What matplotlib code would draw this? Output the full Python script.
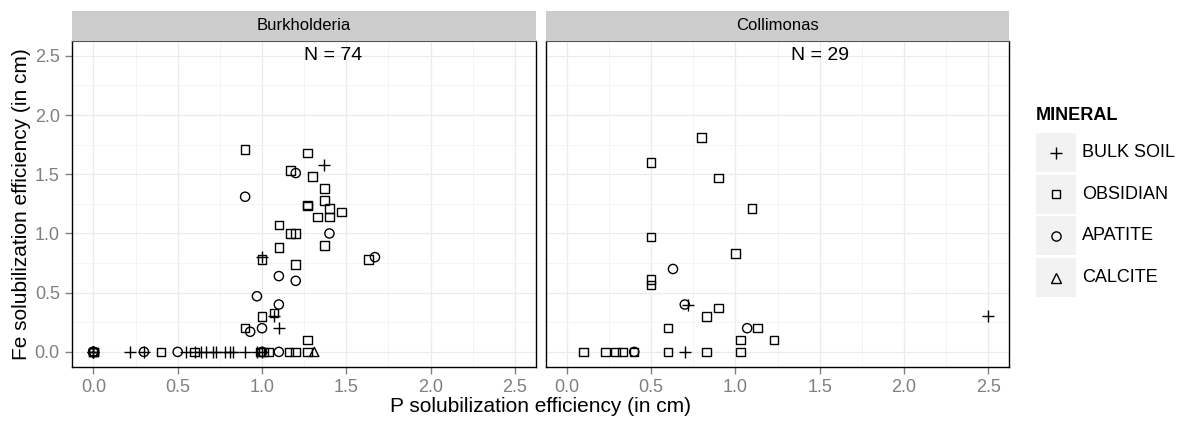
import numpy as np
import matplotlib
matplotlib.use("Agg")
import matplotlib.pyplot as plt
from matplotlib.patches import Rectangle
from matplotlib.lines import Line2D

plt.rcParams['font.family'] = ['Liberation Sans', 'DejaVu Sans']

minerals = ['BULK SOIL', 'OBSIDIAN', 'APATITE', 'CALCITE']
codes = {'B': 'BULK SOIL', 'O': 'OBSIDIAN', 'A': 'APATITE', 'C': 'CALCITE'}
genera = ['Burkholderia', 'Collimonas']
n_labels = ['N = 74', 'N = 29']
ticks = [0.0, 0.5, 1.0, 1.5, 2.0, 2.5]

# Burkholderia isolates: P and Fe solubilization (cm) and mineral
burk_p = [0.90, 1.27, 1.37, 1.17, 1.20, 1.30, 1.37, 0.90, 1.37, 1.27, 1.27, 1.40,
          1.47, 1.33, 1.40, 1.10, 1.17, 1.20, 1.40, 1.37, 1.10, 1.00, 1.00, 1.63,
          1.67, 1.20, 1.10, 1.20, 0.97, 1.10, 1.00, 1.07, 1.07, 0.90, 0.93, 1.00,
          1.10, 1.27,
          0.00, 0.00, 0.00, 0.00, 0.00, 0.00, 0.00, 0.00, 0.00,
          0.22, 0.30, 0.30, 0.40, 0.50, 0.55, 0.60, 0.60, 0.64, 0.67, 0.71, 0.73,
          0.78, 0.81, 0.83, 0.90, 0.97, 0.99, 1.00, 1.00, 1.04, 1.01, 1.10, 1.16,
          1.20, 1.27, 1.31]
burk_fe = [1.71, 1.68, 1.58, 1.53, 1.51, 1.48, 1.38, 1.31, 1.28, 1.23, 1.24, 1.21,
           1.18, 1.14, 1.14, 1.07, 1.00, 1.00, 1.00, 0.90, 0.88, 0.78, 0.80, 0.78,
           0.80, 0.74, 0.64, 0.60, 0.47, 0.40, 0.30, 0.33, 0.30, 0.20, 0.17, 0.20,
           0.20, 0.10,
           0, 0, 0, 0, 0, 0, 0, 0, 0,
           0, 0, 0, 0, 0, 0, 0, 0, 0, 0, 0, 0,
           0, 0, 0, 0, 0, 0, 0, 0, 0, 0, 0, 0,
           0, 0, 0]
burk_min = list('OOBOAOOAOOOOOOOOOOAOOOBOAOAAAAOOBOAAB' + 'O'
                + 'BOABAOBAO'
                + 'BBAOABOBBBBB' + 'BBBBBOABOOAO' + 'OOC')

# Collimonas isolates
coll_p = [0.80, 0.50, 0.90, 1.10, 0.50, 1.00, 0.63, 0.50, 0.50, 0.70, 0.72, 0.90,
          0.83, 0.60, 1.07, 1.13, 1.03, 1.23, 0.10, 0.23, 0.29, 0.33, 0.40, 0.40,
          0.60, 0.70, 0.83, 1.03, 2.50]
coll_fe = [1.81, 1.60, 1.47, 1.21, 0.97, 0.83, 0.70, 0.61, 0.565, 0.40, 0.40, 0.37,
           0.30, 0.20, 0.20, 0.20, 0.10, 0.10, 0, 0, 0, 0, 0, 0,
           0, 0, 0, 0, 0.30]
coll_min = list('OOOOOOAOOABOOOAOOOOOOOAOOBOOB')

series = [(burk_p, burk_fe, burk_min), (coll_p, coll_fe, coll_min)]

style = {'BULK SOIL': ('+', 75), 'OBSIDIAN': ('s', 38),
         'APATITE': ('o', 44), 'CALCITE': ('^', 44)}

W, H = 1182, 426
fig = plt.figure(figsize=(W / 100, H / 100), dpi=100)


def fx(px):
    return px / W


def fy(py):
    return 1 - py / H


panels = [(72.3, 536.0), (545.7, 1009.3)]
top, bottom = 41, 366.7
grey = '#808080'

for i, (l, r) in enumerate(panels):
    ax = fig.add_axes([fx(l), fy(bottom), (r - l) / W, (bottom - top) / H])
    ax.set_xlim(-0.125, 2.625)
    ax.set_ylim(-0.125, 2.625)
    ax.set_xticks(ticks)
    ax.set_xticks(np.arange(0.25, 2.6, 0.5), minor=True)
    ax.set_yticks(ticks)
    ax.set_yticks(np.arange(0.25, 2.6, 0.5), minor=True)
    ax.grid(True, which='major', color='#EBEBEB', lw=0.9)
    ax.grid(True, which='minor', color='#F4F4F4', lw=0.7)
    ax.set_axisbelow(True)
    ax.tick_params(which='minor', length=0)
    ax.tick_params(which='major', direction='out', length=5, width=1,
                   color=grey, labelcolor=grey, labelsize=13, pad=4)
    ax.set_xticklabels([f'{t:.1f}' for t in ticks])
    if i == 0:
        ax.set_yticklabels([f'{t:.1f}' for t in ticks])
    else:
        ax.tick_params(axis='y', left=False, labelleft=False)
    for side, sp in ax.spines.items():
        sp.set_color('black')
        sp.set_linewidth(1.0)
    ax.spines['top'].set_color('#555555')
    ax.spines['top'].set_linewidth(0.8)

    px, fe, mn = series[i]
    px = np.array(px)
    fe = np.array(fe)
    mn = np.array([codes[c] for c in mn])
    for m in minerals:
        sel = mn == m
        if not sel.any():
            continue
        mk, s = style[m]
        if mk == '+':
            ax.scatter(px[sel], fe[sel], marker=mk, s=s, c='black', linewidths=1.0)
        else:
            ax.scatter(px[sel], fe[sel], marker=mk, s=s, facecolors='none',
                       edgecolors='black', linewidths=1.0)

    ax.text(1.42 if i == 0 else 1.5, 2.5, n_labels[i], ha='center', va='center',
            fontsize=14, color='black')

    strip = fig.add_axes([fx(l), fy(top), (r - l) / W, 30 / H])
    strip.set_facecolor('#CCCCCC')
    strip.set_xticks([])
    strip.set_yticks([])
    for sp in strip.spines.values():
        sp.set_visible(False)
    strip.text(0.5, 0.5, genera[i], ha='center', va='center', fontsize=12,
               transform=strip.transAxes)

fig.text(fx((72.3 + 1009.3) / 2), fy(406), 'P solubilization efficiency (in cm)',
         ha='center', va='center', fontsize=15)
fig.text(fx(22), fy((top + bottom) / 2), 'Fe solubilization efficiency (in cm)',
         ha='center', va='center', rotation=90, fontsize=15)

# legend
fig.text(fx(1036), fy(116), 'MINERAL', ha='left', va='center', fontsize=13,
         fontweight='bold')
for k, m in enumerate(minerals):
    ktop = 133 + k * 41.7
    fig.add_artist(Rectangle((fx(1036), fy(ktop + 39)), 40 / W, 39 / H,
                             transform=fig.transFigure, facecolor='#F2F2F2',
                             edgecolor='none'))
    mk, s = style[m]
    ms = np.sqrt(s)
    fig.add_artist(Line2D([fx(1056)], [fy(ktop + 19.5)], marker=mk, markersize=ms,
                          markerfacecolor='none', markeredgecolor='black',
                          markeredgewidth=1.0, linestyle='none',
                          transform=fig.transFigure))
    fig.text(fx(1082), fy(ktop + 19.5), m, ha='left', va='center', fontsize=13)

fig.savefig('out.png', dpi=100)
